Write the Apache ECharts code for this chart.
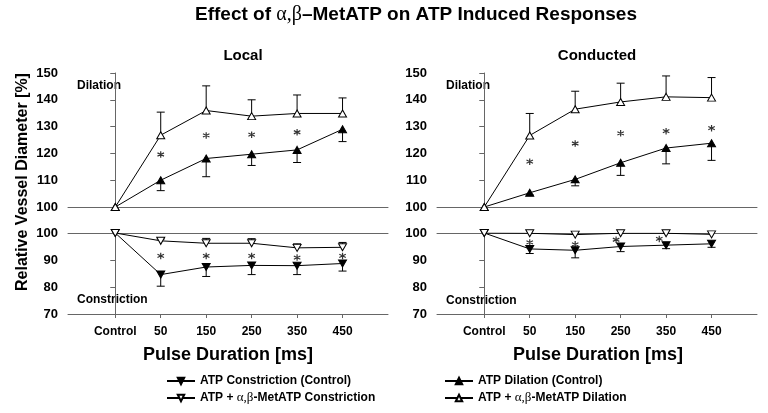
<!DOCTYPE html>
<html>
<head>
<meta charset="utf-8">
<script src="https://cdn.jsdelivr.net/npm/echarts@6/dist/echarts.min.js"></script>
<style>
  html, body { margin: 0; padding: 0; background: #fff; }
  #chart { width: 768px; height: 413px; }
</style>
</head>
<body>
<div id="chart"></div>
<script>
var categories = ['Control', '50', '150', '250', '350', '450'];
var dilTicks = [100, 110, 120, 130, 140, 150];
var conTicks = [70, 80, 90, 100];

var NAME_CON_ATP = 'ATP Constriction (Control)';
var NAME_CON_MET = 'ATP + α,β-MetATP Constriction';
var NAME_DIL_ATP = 'ATP Dilation (Control)';
var NAME_DIL_MET = 'ATP + α,β-MetATP Dilation';

// Local
var localDilAtp    = [100, 110.0, 118.1, 119.7, 121.3, 129.0];
var localDilAtpErr = [100, 106.1, 111.3, 115.5, 116.6, 124.4];
var localDilMet    = [100, 126.8, 136.0, 133.9, 134.9, 134.9];
var localDilMetErr = [100, 135.4, 145.2, 140.0, 141.8, 140.7];
var localConAtp    = [100, 84.6, 87.4, 88.0, 87.9, 88.7];
var localConAtpErr = [100, 80.3, 83.9, 84.6, 84.6, 85.9];
var localConMet    = [100, 97.1, 96.2, 96.2, 94.5, 94.7];
var localConMetErr = [100, 97.8, 98.0, 97.9, 96.0, 96.5];
var localDilStarX = [1, 2, 3, 4];
var localDilStarY = [119.6, 126.7, 127.0, 127.9];
var localConStarX = [1, 2, 3, 4, 5];
var localConStarY = [91.5, 91.5, 91.5, 90.9, 91.5];

// Conducted
var condDilAtp    = [100, 105.3, 110.3, 116.5, 122.0, 123.8];
var condDilAtpErr = [100, 104.5, 107.9, 111.8, 116.1, 117.4];
var condDilMet    = [100, 126.7, 136.5, 139.2, 141.1, 140.8];
var condDilMetErr = [100, 134.9, 143.2, 146.2, 148.9, 148.3];
var condConAtp    = [100, 94.1, 93.6, 95.0, 95.5, 96.0];
var condConAtpErr = [100, 92.4, 90.8, 93.1, 94.2, 94.7];
var condConMet    = [100, 99.9, 99.4, 99.9, 99.9, 99.5];
var condDilStarX = [1, 2, 3, 4, 5];
var condDilStarY = [116.9, 123.7, 127.5, 128.3, 129.4];
var condConStarX = [1, 2, 2.9, 3.85];
var condConStarY = [96.5, 95.8, 97.5, 97.8];

var FONT = '"Liberation Sans", Arial, sans-serif';
var AXIS = '#666';
var catIdx = categories.map(function (c, i) { return i; });

function pts(vals) { return vals.map(function (v, i) { return [i, v]; }); }
function bars(vals, ends) {
    return vals.map(function (v, i) { return [i, v, ends[i]]; }).slice(1);
}
function zip(xs, ys) { return xs.map(function (x, i) { return [x, ys[i]]; }); }

function lineSeries(name, idx, vals, filled, down) {
    return {
        type: 'line', name: name, xAxisIndex: idx.x, yAxisIndex: idx.y,
        data: pts(vals), symbol: 'triangle', symbolSize: [8, 7],
        symbolRotate: down ? 180 : 0, z: 3,
        lineStyle: { color: '#000', width: 1 },
        itemStyle: { color: filled ? '#000' : '#fff', borderColor: '#000', borderWidth: 1 },
        emphasis: { disabled: true }, animation: false
    };
}
function errSeries(idx, vals, ends) {
    return {
        type: 'custom', xAxisIndex: idx.x, yAxisIndex: idx.y, z: 2,
        data: bars(vals, ends), encode: { x: 0, y: [1, 2] },
        renderItem: function (params, api) {
            var p = api.coord([api.value(0), api.value(1)]);
            var q = api.coord([api.value(0), api.value(2)]);
            return { type: 'group', children: [
                { type: 'line', shape: { x1: p[0], y1: p[1], x2: q[0], y2: q[1] }, style: { stroke: '#000', lineWidth: 1 } },
                { type: 'line', shape: { x1: q[0] - 4, y1: q[1], x2: q[0] + 4, y2: q[1] }, style: { stroke: '#000', lineWidth: 1 } }
            ]};
        },
        animation: false
    };
}
function starSeries(idx, xs, ys) {
    return {
        type: 'scatter', xAxisIndex: idx.x, yAxisIndex: idx.y, z: 4,
        data: zip(xs, ys),
        symbol: 'path://M5,0L5,10M0.7,2.5L9.3,7.5M0.7,7.5L9.3,2.5', symbolSize: 6.5,
        itemStyle: { color: 'transparent', borderColor: '#000', borderWidth: 1.2 },
        emphasis: { disabled: true }, animation: false
    };
}

var grids = [
    { left: 68, top: 73, width: 320, height: 134 },
    { left: 68, top: 233, width: 320, height: 81 },
    { left: 437, top: 73, width: 320, height: 134 },
    { left: 437, top: 233, width: 320, height: 81 }
];

function xAxisFor(g, bottom, labelled) {
    return {
        type: 'value', gridIndex: g, min: -1.04, max: 6,
        position: bottom ? 'bottom' : 'top',
        axisLine: { show: true, onZero: false, lineStyle: { color: AXIS, width: 1 } },
        axisTick: { show: labelled, customValues: catIdx, length: 4, lineStyle: { color: AXIS } },
        axisLabel: {
            show: labelled, customValues: catIdx, margin: 12,
            color: '#000', fontFamily: FONT, fontWeight: 'bold', fontSize: 12,
            formatter: function (v) { return categories[v] !== undefined ? categories[v] : ''; }
        },
        splitLine: { show: false }
    };
}
function yAxisFor(g, ticks) {
    return {
        type: 'value', gridIndex: g, min: ticks[0], max: ticks[ticks.length - 1], interval: 10,
        axisLine: { show: true, lineStyle: { color: AXIS, width: 1 } },
        axisTick: { show: true, length: 5, lineStyle: { color: AXIS } },
        axisLabel: { color: '#000', fontFamily: FONT, fontWeight: 'bold', fontSize: 13, margin: 10 },
        splitLine: { show: false }
    };
}

var xAxes = [
    xAxisFor(0, true, false),
    xAxisFor(1, true, true),
    xAxisFor(2, true, false),
    xAxisFor(3, true, true),
    xAxisFor(1, false, false),
    xAxisFor(3, false, false)
];
var yAxes = [yAxisFor(0, dilTicks), yAxisFor(1, conTicks), yAxisFor(2, dilTicks), yAxisFor(3, conTicks)];

var LU = { x: 0, y: 0 }, LL = { x: 1, y: 1 }, CU = { x: 2, y: 2 }, CL = { x: 3, y: 3 };

var series = [
    errSeries(LU, localDilAtp, localDilAtpErr),
    errSeries(LU, localDilMet, localDilMetErr),
    lineSeries(NAME_DIL_ATP, LU, localDilAtp, true, false),
    lineSeries(NAME_DIL_MET, LU, localDilMet, false, false),
    starSeries(LU, localDilStarX, localDilStarY),

    errSeries(LL, localConAtp, localConAtpErr),
    errSeries(LL, localConMet, localConMetErr),
    lineSeries(NAME_CON_ATP, LL, localConAtp, true, true),
    lineSeries(NAME_CON_MET, LL, localConMet, false, true),
    starSeries(LL, localConStarX, localConStarY),

    errSeries(CU, condDilAtp, condDilAtpErr),
    errSeries(CU, condDilMet, condDilMetErr),
    lineSeries(NAME_DIL_ATP, CU, condDilAtp, true, false),
    lineSeries(NAME_DIL_MET, CU, condDilMet, false, false),
    starSeries(CU, condDilStarX, condDilStarY),

    errSeries(CL, condConAtp, condConAtpErr),
    lineSeries(NAME_CON_ATP, CL, condConAtp, true, true),
    lineSeries(NAME_CON_MET, CL, condConMet, false, true),
    starSeries(CL, condConStarX, condConStarY)
];

var greek = { fontFamily: '"Liberation Serif", "DejaVu Serif", serif', fontWeight: 'normal' };
function legendFor(left, names) {
    return {
        data: names, left: left, top: 374, orient: 'vertical',
        padding: 0, itemWidth: 28, itemHeight: 8, itemGap: 3,
        selectedMode: false,
        textStyle: {
            color: '#000', fontFamily: FONT, fontWeight: 'bold', fontSize: 12, lineHeight: 14,
            rich: { g: Object.assign({ fontSize: 13, lineHeight: 14, color: '#000' }, greek) }
        },
        formatter: function (n) { return n.replace('α,β', '{g|α,β}'); }
    };
}

function txt(x, y, text, size, align, extra) {
    return Object.assign({
        type: 'text', x: x, y: y, silent: true,
        style: {
            text: text, fill: '#000', align: align || 'center', verticalAlign: 'middle',
            font: 'bold ' + size + 'px ' + FONT
        }
    }, extra || {});
}

var graphics = [
    {
        type: 'text', x: 416, y: 15, silent: true,
        style: {
            text: 'Effect of {g|α,β}–MetATP on ATP Induced Responses',
            fill: '#000', align: 'center', verticalAlign: 'middle',
            font: 'bold 19px ' + FONT,
            rich: { g: Object.assign({ fontSize: 20, fill: '#000' }, greek) }
        }
    },
    txt(243, 56, 'Local', 15),
    txt(597, 56, 'Conducted', 15),
    txt(77, 86, 'Dilation', 12, 'left'),
    txt(446, 86, 'Dilation', 12, 'left'),
    txt(77, 300, 'Constriction', 12, 'left'),
    txt(446, 301, 'Constriction', 12, 'left'),
    txt(228, 355, 'Pulse Duration [ms]', 18),
    txt(598, 355, 'Pulse Duration [ms]', 18),
    txt(23, 182, 'Relative Vessel Diameter [%]', 16, 'center', { rotation: Math.PI / 2 })
];

var chart = echarts.init(document.getElementById('chart'), null, { renderer: 'canvas' });
chart.setOption({
    backgroundColor: '#fff',
    animation: false,
    grid: grids,
    xAxis: xAxes,
    yAxis: yAxes,
    legend: [legendFor(166, [NAME_CON_ATP, NAME_CON_MET]), legendFor(444, [NAME_DIL_ATP, NAME_DIL_MET])],
    graphic: graphics,
    series: series
});
</script>
</body>
</html>
